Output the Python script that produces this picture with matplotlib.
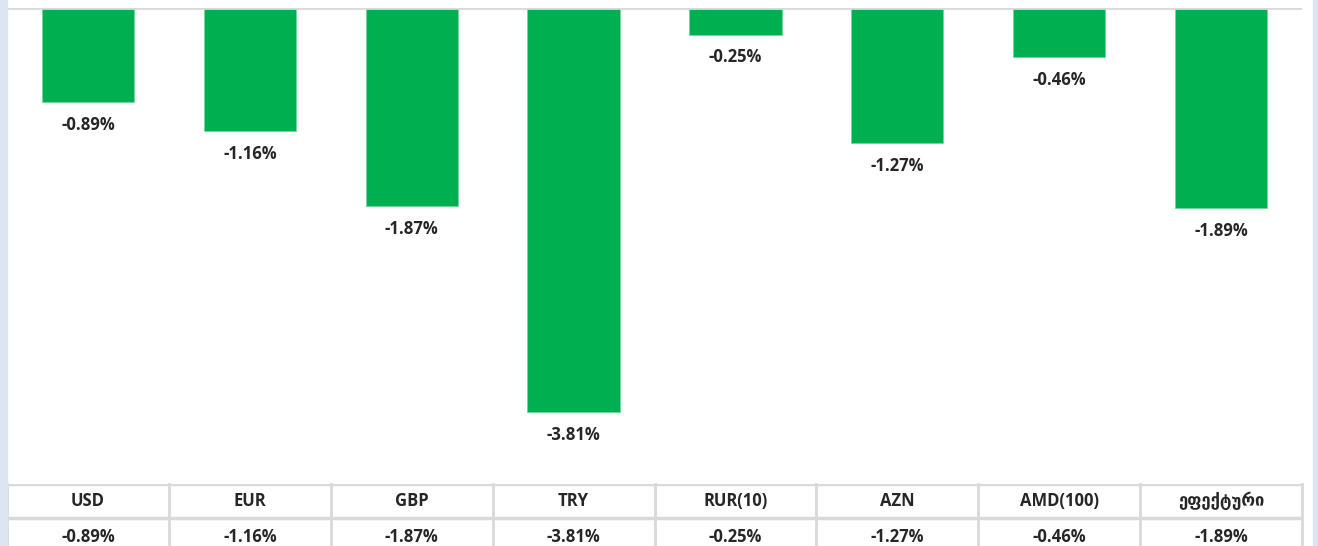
import matplotlib.pyplot as plt
import numpy as np

# currency changes, %
currencies = ['USD', 'EUR', 'GBP', 'TRY', 'RUR(10)', 'AZN', 'AMD(100)', 'ეფექტური']
changes = [-0.89, -1.16, -1.87, -3.81, -0.25, -1.27, -0.46, -1.89]

W, H = 1318, 546
plt.rcParams['font.family'] = ['Open Sans', 'DejaVu Sans']
txt_color = '#262626'
grid_color = '#d9d9d9'

fig = plt.figure(figsize=(W / 100, H / 100), dpi=100)
fig.patch.set_facecolor('white')

# light blue frame strips on the sides
fig.patches.append(plt.Rectangle((0, 0), 7 / W, 1, transform=fig.transFigure,
                                 color='#dce6f2', zorder=0))
fig.patches.append(plt.Rectangle((1313 / W, 0), 5 / W, 1, transform=fig.transFigure,
                                 color='#dce6f2', zorder=0))

# bar chart
x0, x1 = 7, 1302
y_top, y_bot = 8, 470
ax = fig.add_axes([x0 / W, 1 - y_bot / H, (x1 - x0) / W, (y_bot - y_top) / H])
n = len(currencies)
xs = np.arange(n)
ax.bar(xs, changes, width=0.57, color='#00b050', edgecolor='#6fd79a', linewidth=0.6)
ax.set_xlim(-0.5, n - 0.5)
ax.set_ylim(-(y_bot - y_top) / 106, 0)
ax.axhline(0, color=grid_color, linewidth=2, zorder=3)
ax.axis('off')

for xi, v in zip(xs, changes):
    ax.annotate(f'{v:.2f}%', (xi, v), xytext=(0, -16.5), textcoords='offset points',
                ha='center', va='center', fontsize=12, fontweight='bold',
                color=txt_color)

# data table below
t_top = 484
row_h = 34
tab = fig.add_axes([x0 / W, 1 - (t_top + 2 * row_h) / H, (x1 - x0) / W, 2 * row_h / H])
tab.set_xlim(0, n)
tab.set_ylim(2, 0)
tab.axis('off')
for i in range(n + 1):
    tab.axvline(i, color=grid_color, linewidth=2, clip_on=False)
for r in [0, 1]:
    tab.axhline(r, color=grid_color, linewidth=2.5)
for i, (c, v) in enumerate(zip(currencies, changes)):
    tab.text(i + 0.5, 0.5, c, ha='center', va='center', fontsize=12,
             fontweight='bold', color=txt_color)
    tab.text(i + 0.5, 1.55, f'{v:.2f}%', ha='center', va='center', fontsize=12,
             fontweight='bold', color=txt_color)

fig.savefig('out.png', dpi=100)
